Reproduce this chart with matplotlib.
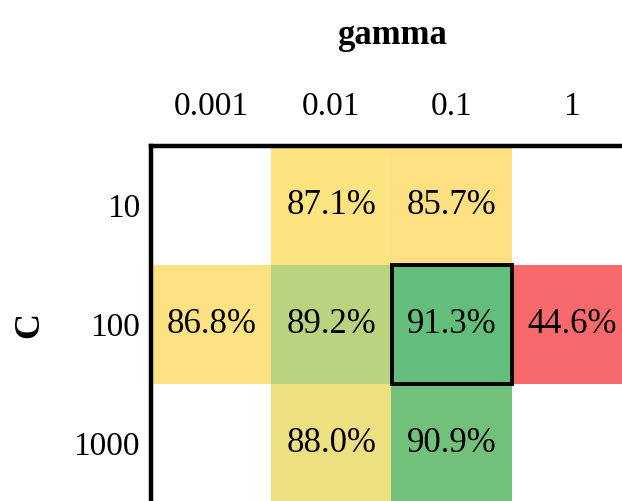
import matplotlib
matplotlib.use("Agg")
import matplotlib.pyplot as plt
import numpy as np
from matplotlib.colors import LinearSegmentedColormap, TwoSlopeNorm
from matplotlib.patches import Rectangle

plt.rcParams['font.family'] = ['Liberation Serif', 'DejaVu Serif']

gamma_labels = ['0.001', '0.01', '0.1', '1']
c_labels = ['10', '100', '1000']
acc_c10 = [np.nan, 87.1, 85.7, np.nan]
acc_c100 = [86.8, 89.2, 91.3, 44.6]
acc_c1000 = [np.nan, 88.0, 90.9, np.nan]

acc = np.array([acc_c10, acc_c100, acc_c1000])

# excel-style 3 colour scale: red -> yellow (median) -> green
cmap = LinearSegmentedColormap.from_list('ryg', ['#F8696B', '#FFE582', '#63BE7B'])
norm = TwoSlopeNorm(vmin=np.nanmin(acc), vcenter=np.nanmedian(acc), vmax=np.nanmax(acc))

W, H = 622, 501
fig = plt.figure(figsize=(W / 100, H / 100), dpi=100)
ax = fig.add_axes([151 / W, (H - 503) / H, 481 / W, 357 / H])
ax.imshow(np.ma.masked_invalid(acc), cmap=cmap, norm=norm, aspect='auto',
          interpolation='nearest')

for i in range(acc.shape[0]):
    for j in range(acc.shape[1]):
        if not np.isnan(acc[i, j]):
            ax.text(j, i, f"{acc[i, j]:.1f}%", ha='center', va='center',
                    fontsize=25, color='black')

# box round the best cell
bi, bj = np.unravel_index(np.nanargmax(acc), acc.shape)
ax.add_patch(Rectangle((bj - 0.5, bi - 0.5), 1, 1, fill=False,
                       edgecolor='black', linewidth=2.8, zorder=5))

ax.set_xticks(range(len(gamma_labels)))
ax.set_xticklabels(gamma_labels)
ax.set_yticks(range(len(c_labels)))
ax.set_yticklabels(c_labels)
ax.xaxis.tick_top()
ax.tick_params(axis='x', length=0, pad=17, labelsize=24)
ax.tick_params(axis='y', length=0, pad=8, labelsize=24)

for side in ['top', 'left', 'right', 'bottom']:
    ax.spines[side].set_linewidth(3.2)
    ax.spines[side].set_color('black')

fig.text(392 / W, 1 - 35 / H, 'gamma', ha='center', va='center',
         fontsize=25, fontweight='bold')
fig.text(30 / W, 1 - 325 / H, 'C', ha='center', va='center',
         fontsize=26, fontweight='bold', rotation=90)

fig.savefig('out.png', dpi=100)
